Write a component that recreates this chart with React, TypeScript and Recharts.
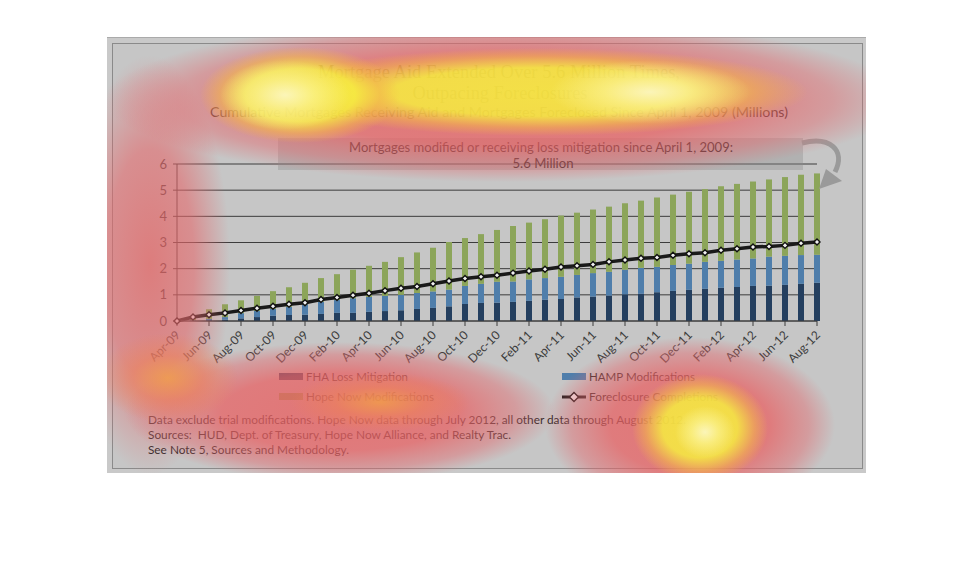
import React from 'react';
import { ComposedChart, Bar, Line, XAxis, YAxis, CartesianGrid } from 'recharts';

const months = [
  'Apr-09', 'May-09', 'Jun-09', 'Jul-09', 'Aug-09', 'Sep-09', 'Oct-09', 'Nov-09', 'Dec-09',
  'Jan-10', 'Feb-10', 'Mar-10', 'Apr-10', 'May-10', 'Jun-10', 'Jul-10', 'Aug-10', 'Sep-10',
  'Oct-10', 'Nov-10', 'Dec-10', 'Jan-11', 'Feb-11', 'Mar-11', 'Apr-11', 'May-11', 'Jun-11',
  'Jul-11', 'Aug-11', 'Sep-11', 'Oct-11', 'Nov-11', 'Dec-11', 'Jan-12', 'Feb-12', 'Mar-12',
  'Apr-12', 'May-12', 'Jun-12', 'Jul-12', 'Aug-12',
];

// cumulative millions, stacked segments
const fhaLossMitigation = [
  0.01, 0.02, 0.03, 0.05, 0.1, 0.15, 0.2, 0.23, 0.24, 0.27, 0.31, 0.31, 0.35, 0.38, 0.41,
  0.46, 0.5, 0.56, 0.65, 0.69, 0.7, 0.73, 0.77, 0.81, 0.84, 0.9, 0.93, 0.97, 1.02, 1.04,
  1.1, 1.15, 1.19, 1.23, 1.27, 1.3, 1.34, 1.35, 1.38, 1.42, 1.46,
];
const hampModifications = [
  0.0, 0.01, 0.05, 0.1, 0.2, 0.23, 0.26, 0.31, 0.4, 0.46, 0.49, 0.56, 0.57, 0.58, 0.59,
  0.61, 0.63, 0.64, 0.69, 0.73, 0.8, 0.78, 0.82, 0.83, 0.85, 0.86, 0.9, 0.91, 0.94, 0.99,
  0.97, 0.99, 1.0, 1.03, 1.03, 1.05, 1.05, 1.11, 1.11, 1.1, 1.07,
];
const hopeNowModifications = [
  0.02, 0.09, 0.37, 0.49, 0.49, 0.58, 0.68, 0.75, 0.82, 0.91, 0.99, 1.09, 1.19, 1.3, 1.44,
  1.55, 1.67, 1.82, 1.83, 1.9, 1.98, 2.12, 2.17, 2.25, 2.34, 2.38, 2.43, 2.49, 2.54, 2.57,
  2.65, 2.69, 2.75, 2.78, 2.85, 2.89, 2.94, 2.95, 3.01, 3.07, 3.11,
];
const foreclosureCompletions = [
  0.0, 0.15, 0.24, 0.31, 0.4, 0.49, 0.56, 0.64, 0.7, 0.82, 0.9, 0.98, 1.06, 1.16, 1.25,
  1.32, 1.42, 1.53, 1.62, 1.69, 1.75, 1.83, 1.91, 1.98, 2.06, 2.11, 2.16, 2.26, 2.33, 2.4,
  2.43, 2.51, 2.57, 2.61, 2.7, 2.76, 2.83, 2.85, 2.89, 2.97, 3.02,
];
const yTicks = [0, 1, 2, 3, 4, 5, 6];

const data = months.map((month, i) => ({
  idx: i,
  month,
  fha: fhaLossMitigation[i],
  hamp: hampModifications[i],
  hope: hopeNowModifications[i],
  foreclosure: foreclosureCompletions[i],
}));
const xTicks = months.map((_, i) => i).filter((i) => i % 2 === 0);

const COLORS = {
  fha: '#243f5f',
  hamp: '#4f7eab',
  hope: '#8ca55a',
  line: '#1a1a1a',
  text: '#262626',
  axis: '#3c3c3c',
};
const FONT = 'Lato, "Open Sans", sans-serif';
const SERIF = '"Liberation Serif", "DejaVu Serif", serif';

const XTick = ({ x, y, payload }: any) => (
  <g transform={`translate(${x + 1},${y + 5})`}>
    <text x={0} y={0} dy={4} textAnchor="end" transform="rotate(-45)" fontSize={12} fill={COLORS.axis} fontFamily={FONT}>
      {months[payload.value]}
    </text>
  </g>
);

const Diamond = ({ cx, cy, r = 6.5 }: any) =>
  cx == null || cy == null ? null : (
    <path
      d={`M${cx},${cy - r} L${cx + r},${cy} L${cx},${cy + r} L${cx - r},${cy} Z`}
      fill="#f0f0f0"
      stroke="#111"
      strokeWidth={1.4}
    />
  );

// heat blobs in page coordinates, turned into panel-local gradients
const PANEL = { x: 107, y: 37, w: 759, h: 436 };
const ramps: Record<string, string> = {
  white: 'rgba(255,254,232,0.7) 0%, rgba(255,250,175,0.5) 45%, rgba(252,246,80,0) 100%',
  yellow: 'rgba(247,244,62,0.84) 0%, rgba(247,242,62,0.82) 55%, rgba(244,185,72,0.55) 80%, rgba(240,140,95,0) 100%',
  orange: 'rgba(242,158,72,0.8) 0%, rgba(238,130,88,0.55) 50%, rgba(230,110,110,0) 100%',
  red: 'rgba(232,98,98,0.8) 0%, rgba(232,98,100,0.75) 55%, rgba(228,105,110,0.45) 82%, rgba(225,105,110,0) 100%',
  pink: 'rgba(228,100,100,0.75) 0%, rgba(228,105,108,0.6) 55%, rgba(225,110,115,0) 100%',
};
const blobs: [number, number, number, number, string][] = [
  [285, 95, 65, 35, 'white'],
  [705, 432, 30, 26, 'white'],
  [650, 92, 100, 32, 'white'],
  [300, 95, 100, 48, 'yellow'],
  [540, 92, 268, 44, 'yellow'],
  [700, 428, 68, 54, 'yellow'],
  [168, 378, 70, 45, 'orange'],
  [380, 402, 90, 30, 'orange'],
  [505, 100, 400, 82, 'red'],
  [690, 425, 145, 88, 'red'],
  [340, 412, 215, 70, 'red'],
  [150, 265, 80, 210, 'pink'],
];
const heatBackground = blobs
  .map(
    ([cx, cy, rx, ry, k]) =>
      `radial-gradient(ellipse ${rx}px ${ry}px at ${cx - PANEL.x}px ${cy - PANEL.y}px, ${ramps[k]})`
  )
  .join(', ');

export default function App() {
  return (
    <div style={{ position: 'absolute', left: 0, top: 0, width: 974, height: 568, background: '#fff' }}>
      <div
        style={{
          position: 'absolute',
          left: PANEL.x,
          top: PANEL.y,
          width: PANEL.w,
          height: PANEL.h,
          background: '#c9c9c9',
          boxSizing: 'border-box',
          borderTop: '1px solid #aaa',
        }}
      >
        <div
          style={{
            position: 'absolute',
            left: 5,
            top: 5,
            right: 3,
            bottom: 4,
            border: '1px solid #8a8a8a',
            background: '#c6c6c6',
          }}
        />
      </div>

      <svg width={974} height={568} style={{ position: 'absolute', left: 0, top: 0 }}>
        <text x={499} y={78} textAnchor="middle" fontFamily={SERIF} fontSize={18} fill="#3a3a20" textLength={362} lengthAdjust="spacingAndGlyphs">
          Mortgage Aid Extended Over 5.6 Million Times,
        </text>
        <text x={500} y={99} textAnchor="middle" fontFamily={SERIF} fontSize={18} fill="#3a3a20" textLength={175} lengthAdjust="spacingAndGlyphs">
          Outpacing Foreclosures
        </text>
        <text x={499} y={117} textAnchor="middle" fontFamily={FONT} fontSize={14} fill="#2a2420" textLength={578} lengthAdjust="spacingAndGlyphs">
          Cumulative Mortgages Receiving Aid and Mortgages Foreclosed Since April 1, 2009 (Millions)
        </text>
      </svg>

      <ComposedChart
        width={758}
        height={436}
        data={data}
        margin={{ top: 127, right: 48, left: 40, bottom: 92 }}
        style={{ position: 'absolute', left: PANEL.x, top: PANEL.y }}
      >
        <CartesianGrid horizontal vertical={false} stroke={COLORS.axis} strokeWidth={1} />
        <XAxis
          type="number"
          dataKey="idx"
          domain={[0, 40]}
          ticks={xTicks}
          interval={0}
          height={60}
          tick={<XTick />}
          tickSize={5}
          tickMargin={2}
          axisLine={{ stroke: COLORS.axis }}
          tickLine={{ stroke: COLORS.axis }}
        />
        <YAxis
          domain={[0, 6]}
          ticks={yTicks}
          width={30}
          tickSize={4}
          tickMargin={6}
          tick={{ fontSize: 13, fill: COLORS.axis, fontFamily: FONT }}
          axisLine={{ stroke: COLORS.axis }}
          tickLine={{ stroke: COLORS.axis }}
        />
        <Bar dataKey="fha" stackId="a" fill={COLORS.fha} barSize={6} isAnimationActive={false} />
        <Bar dataKey="hamp" stackId="a" fill={COLORS.hamp} barSize={6} isAnimationActive={false} />
        <Bar dataKey="hope" stackId="a" fill={COLORS.hope} barSize={6} isAnimationActive={false} />
        <Line
          dataKey="foreclosure"
          stroke={COLORS.line}
          strokeWidth={3.5}
          dot={<Diamond />}
          activeDot={false}
          isAnimationActive={false}
        />
      </ComposedChart>

      <svg width={974} height={568} style={{ position: 'absolute', left: 0, top: 0, pointerEvents: 'none' }}>
        <rect x={278} y={138} width={525} height={32} fill="#8a8a8a" opacity={0.35} />
        <text x={541} y={152} textAnchor="middle" fontFamily={FONT} fontSize={13} fill={COLORS.text} textLength={384} lengthAdjust="spacingAndGlyphs">
          Mortgages modified or receiving loss mitigation since April 1, 2009:
        </text>
        <text x={543} y={168} textAnchor="middle" fontFamily={FONT} fontSize={13} fill={COLORS.text} textLength={61} lengthAdjust="spacingAndGlyphs">
          5.6 Million
        </text>
        <path d="M 802 143 C 830 136, 846 150, 835 172" fill="none" stroke="#9a9a9a" strokeWidth={5} />
        <polygon points="826,169 842,181 819,189" fill="#9a9a9a" />

        <rect x={279} y={373} width={24} height={7} fill={COLORS.fha} />
        <text x={306} y={381} fontFamily={FONT} fontSize={12} fill={COLORS.text} textLength={102} lengthAdjust="spacingAndGlyphs">FHA Loss Mitigation</text>
        <rect x={562} y={373} width={24} height={7} fill={COLORS.hamp} />
        <text x={589} y={381} fontFamily={FONT} fontSize={12} fill={COLORS.text} textLength={106} lengthAdjust="spacingAndGlyphs">HAMP Modifications</text>
        <rect x={279} y={393} width={24} height={7} fill={COLORS.hope} />
        <text x={306} y={401} fontFamily={FONT} fontSize={12} fill={COLORS.text} textLength={128} lengthAdjust="spacingAndGlyphs">Hope Now Modifications</text>
        <line x1={562} y1={397} x2={586} y2={397} stroke={COLORS.line} strokeWidth={3} />
        <Diamond cx={574} cy={397} r={4.5} />
        <text x={589} y={401} fontFamily={FONT} fontSize={12} fill={COLORS.text} textLength={129} lengthAdjust="spacingAndGlyphs">Foreclosure Completions</text>

        <text x={148} y={424} fontFamily={FONT} fontSize={12} fill={COLORS.text} textLength={538} lengthAdjust="spacingAndGlyphs">
          Data exclude trial modifications. Hope Now data through July 2012, all other data through August 2012.
        </text>
        <text x={148} y={439} fontFamily={FONT} fontSize={12} fill={COLORS.text} textLength={363} lengthAdjust="spacingAndGlyphs" xmlSpace="preserve">
          Sources:  HUD, Dept. of Treasury, Hope Now Alliance, and Realty Trac.
        </text>
        <text x={148} y={454} fontFamily={FONT} fontSize={12} fill={COLORS.text} textLength={201} lengthAdjust="spacingAndGlyphs">
          See Note 5, Sources and Methodology.
        </text>
      </svg>

      <div
        style={{
          position: 'absolute',
          left: PANEL.x,
          top: PANEL.y,
          width: PANEL.w,
          height: PANEL.h,
          background: heatBackground,
          pointerEvents: 'none',
        }}
      />
    </div>
  );
}
